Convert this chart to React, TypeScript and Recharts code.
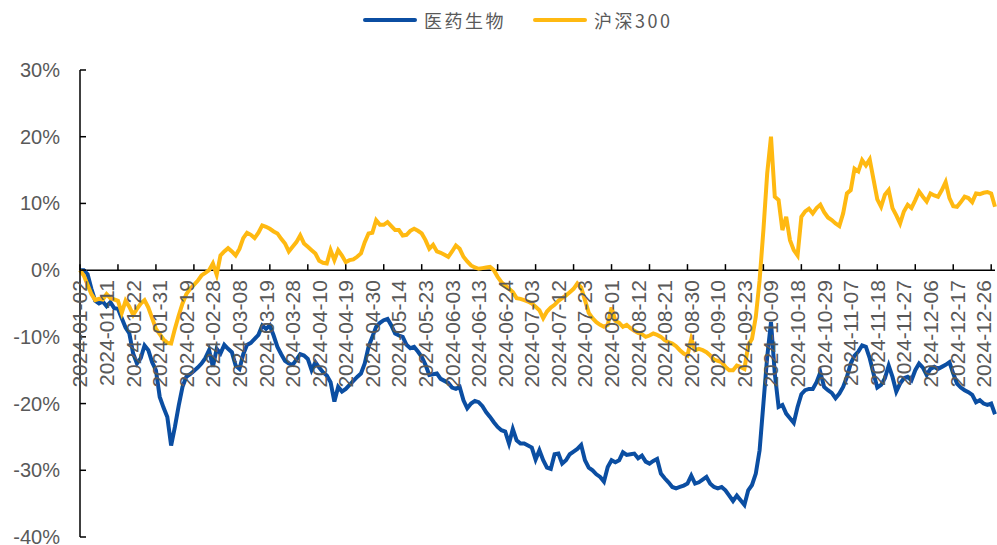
import React from 'react'
import { LineChart, Line, XAxis, YAxis, ReferenceLine, Legend } from 'recharts'

// A-share market holidays falling on weekdays in 2024
const HOLIDAYS = [
  '2024-01-01', '2024-02-09', '2024-02-12', '2024-02-13', '2024-02-14', '2024-02-15',
  '2024-02-16', '2024-04-04', '2024-04-05', '2024-05-01', '2024-05-02', '2024-05-03',
  '2024-06-10', '2024-09-16', '2024-09-17', '2024-10-01', '2024-10-02', '2024-10-03',
  '2024-10-04', '2024-10-07'
]

const Y_TICKS = [-40, -30, -20, -10, 0, 10, 20, 30]

// cumulative return, %
const MED = [
  0, 0.0, -0.6, -2.8, -4.6, -5.0, -4.7, -5.4, -4.8, -5.7,
  -5.8, -7.2, -8.6, -9.5, -12.5, -14.0, -13.2, -11.3, -12.0, -13.8,
  -15.0, -19.0, -20.6, -22.0, -26.3, -23.5, -20.3, -17.5, -16.0, -15.6,
  -15.1, -14.6, -14.0, -13.2, -12.0, -14.5, -11.8, -12.5, -11.2, -11.8,
  -12.3, -14.3, -14.8, -12.6, -11.2, -10.9, -10.3, -9.7, -8.3, -8.8,
  -8.3, -9.8, -11.5, -12.6, -13.6, -14.0, -14.2, -13.4, -12.6, -12.8,
  -13.3, -15.0, -13.8, -14.6, -15.3, -15.8, -16.8, -19.7, -17.5, -18.2,
  -17.8, -17.2, -16.6, -16.0, -15.5, -14.0, -11.5, -10.0, -8.5, -7.9,
  -7.5, -7.3, -8.3, -9.5, -9.8, -10.0, -11.2, -11.7, -11.5, -12.2,
  -13.0, -14.2, -15.7, -15.6, -15.5, -16.3, -16.6, -16.9, -17.6, -17.8,
  -17.5, -19.5, -20.7, -20.0, -19.6, -19.8, -20.4, -21.3, -22.0, -22.8,
  -23.5, -24.0, -24.2, -26.0, -23.8, -25.5, -26.0, -26.0, -26.3, -26.6,
  -28.4, -27.0, -28.5, -29.6, -29.8, -27.6, -27.5, -29.0, -28.5, -27.6,
  -27.2, -26.8, -26.2, -28.5, -29.6, -30.0, -30.6, -31.0, -31.7, -29.5,
  -28.5, -28.8, -28.5, -27.3, -27.7, -27.6, -27.5, -28.2, -27.8, -28.7,
  -29.0, -28.6, -28.3, -30.5, -31.2, -31.8, -32.5, -32.7, -32.5, -32.3,
  -32.0, -30.8, -32.0, -31.8, -31.4, -31.0, -32.0, -32.5, -32.7, -32.5,
  -33.0, -33.8, -34.6, -33.8, -34.5, -35.2, -33.0, -32.2, -30.5, -27.0,
  -20.0, -13.0, -7.8, -15.5, -20.5, -20.2, -21.5, -22.2, -22.9, -20.5,
  -18.6, -18.0, -17.8, -17.8, -16.8, -15.3, -17.5, -18.0, -18.4, -19.2,
  -18.5, -17.5, -16.0, -14.0, -12.8, -12.2, -11.3, -11.5, -13.2, -15.5,
  -17.6, -17.2, -16.2, -14.3, -16.0, -18.2, -17.0, -16.2, -16.0, -16.5,
  -15.0, -14.0, -14.6, -15.7, -14.8, -14.5, -14.8, -14.5, -14.2, -13.8,
  -15.5, -17.0, -17.6, -18.0, -18.3, -18.7, -19.8, -19.5, -20.0, -20.2,
  -20.0, -21.6
]

const HS300 = [
  0, -0.8, -2.2, -3.6, -4.5, -4.3, -4.4, -3.6, -4.2, -4.4,
  -4.6, -6.4, -4.6, -5.5, -6.7, -5.8, -5.0, -4.5, -5.6, -7.2,
  -8.8, -9.6, -10.4, -10.9, -11.0, -8.8, -6.8, -5.0, -3.6, -2.8,
  -2.2, -1.6, -0.8, -0.4, 0.0, 1.0, -0.7, 2.2, 2.8, 3.3,
  2.8, 2.2, 3.2, 4.8, 5.6, 5.3, 4.8, 5.6, 6.7, 6.5,
  6.2, 5.8, 5.5, 4.7, 4.0, 2.8, 3.5, 4.2, 5.2, 4.0,
  3.5, 3.0, 2.5, 1.4, 1.1, 1.0, 3.0, 1.5, 3.0, 2.2,
  1.2, 1.5, 1.6, 2.0, 2.5, 4.2, 5.5, 5.6, 7.5, 6.8,
  6.8, 7.2, 6.6, 6.0, 6.0, 5.2, 5.3, 5.9, 6.2, 5.9,
  5.5, 4.5, 3.2, 3.8, 2.8, 2.6, 2.3, 2.0, 2.8, 3.7,
  3.2, 2.0, 1.3, 0.7, 0.4, 0.2, 0.3, 0.4, 0.5, 0.0,
  -1.0, -1.8, -2.3, -2.8, -3.3, -4.2, -4.3, -4.5, -4.7, -5.0,
  -5.5, -6.0, -7.2, -6.2, -5.6, -5.2, -4.6, -4.2, -3.8, -3.3,
  -2.8, -2.0, -2.6, -4.5, -6.4, -7.2, -7.8, -8.2, -8.5, -8.2,
  -5.6, -7.6, -7.9, -8.5, -8.2, -8.7, -9.1, -9.4, -9.6, -10.0,
  -9.8, -9.5, -9.7, -10.0, -10.5, -10.8, -11.0, -11.4, -12.0, -12.5,
  -12.8, -10.3, -12.0, -11.8, -12.0, -12.3, -12.8, -13.4, -13.6, -13.8,
  -14.5, -15.0, -15.0, -14.3, -14.5, -14.8, -11.3, -10.3, -7.0, -1.5,
  6.0, 14.5, 20.0, 11.0, 10.5, 6.0, 8.0, 4.5, 3.0, 2.2,
  8.0, 8.8, 9.2, 8.5, 9.3, 9.8, 8.7, 7.9, 7.5, 7.0,
  6.6, 8.5, 11.5, 12.0, 15.2, 14.8, 16.5, 15.7, 16.6, 13.6,
  10.6, 9.5, 11.3, 12.0, 9.3, 8.2, 7.0, 8.8, 9.8, 9.3,
  10.5, 11.8, 11.0, 10.3, 11.5, 11.2, 11.0, 12.0, 13.2, 10.8,
  9.6, 9.5, 10.2, 11.0, 10.8, 10.2, 11.5, 11.4, 11.6, 11.7,
  11.5, 9.5
]

function tradingDays(): string[] {
  const out: string[] = []
  const d = new Date(Date.UTC(2024, 0, 1))
  while (d.getUTCFullYear() === 2024) {
    const wd = d.getUTCDay()
    const s = d.toISOString().slice(0, 10)
    if (wd !== 0 && wd !== 6 && !HOLIDAYS.includes(s)) out.push(s)
    d.setUTCDate(d.getUTCDate() + 1)
  }
  return out
}

const DATES = tradingDays()
const data = DATES.map((date, i) => ({ date, med: MED[i], hs: HS300[i] }))

const W = 997
const H = 545
const TOP = 70
const BOTTOM_PAD = 6
const Y_MIN = -40
const Y_MAX = 30
// y pixel of the 0% line, where the category axis sits
const PLOT_H = H - TOP - BOTTOM_PAD - 2
const ZERO_Y = TOP + (PLOT_H * Y_MAX) / (Y_MAX - Y_MIN)

const FONT = '"Liberation Sans", Arial, sans-serif'
const GREY = '#595959'

const YTick = (props: any) => {
  const { x, y, payload } = props
  return (
    <g>
      <line x1={x} x2={x + 6} y1={y} y2={y} stroke="#000" strokeWidth={1.5} />
      <text x={x - 20} y={y} textAnchor="end" dominantBaseline="central"
        fill={GREY} fontSize={20} fontFamily={FONT}>{payload.value}%</text>
    </g>
  )
}

const DateTick = (props: any) => {
  const { x, payload } = props
  const ty = ZERO_Y + 10
  return (
    <text x={x} y={ty} transform={`rotate(-90, ${x}, ${ty})`} textAnchor="end"
      dominantBaseline="central" fill={GREY} fontSize={21} fontFamily={FONT}>
      {payload.value}
    </text>
  )
}

const MarkTick = (props: any) => {
  const { x } = props
  return <line x1={x} x2={x} y1={ZERO_Y} y2={ZERO_Y - 6} stroke="#000" strokeWidth={1.5} />
}

const LegendBox = (props: any) => {
  const items = props.payload || []
  return (
    <div style={{ height: 40, display: 'flex', alignItems: 'center', paddingLeft: 363 }}>
      {items.map((it: any) => (
        <div key={it.value} style={{ display: 'flex', alignItems: 'center', marginRight: 27 }}>
          <span style={{ width: 54, height: 4, borderRadius: 2, background: it.color, display: 'inline-block', marginRight: 7 }} />
          <span style={{ color: GREY, fontSize: 18, letterSpacing: 2.5, fontFamily: '"Noto Sans CJK SC", sans-serif' }}>{it.value}</span>
        </div>
      ))}
    </div>
  )
}

export default function App() {
  return (
    <div style={{ width: W, height: H }}>
      <style>{'body{margin:0}'}</style>
      <LineChart width={W} height={H} data={data}
        margin={{ top: TOP - 40, right: 2, bottom: BOTTOM_PAD, left: 0 }}>
        <Legend verticalAlign="top" content={<LegendBox />}
          wrapperStyle={{ top: 0, left: 0, width: W, height: 40 }} />
        <YAxis domain={[Y_MIN, Y_MAX]} ticks={Y_TICKS} interval={0} width={80} tickSize={0}
          tickMargin={0} axisLine={{ stroke: '#000', strokeWidth: 1.5 }} tickLine={false}
          tick={<YTick />} allowDataOverflow />
        <XAxis dataKey="date" interval={6} height={1} axisLine={false} tickLine={false}
          tick={<DateTick />} />
        <XAxis xAxisId="t" dataKey="date" interval={9} height={1} axisLine={false}
          tickLine={false} tick={<MarkTick />} />
        <ReferenceLine y={0} stroke="#000" strokeWidth={1.5} />
        <Line dataKey="med" name="医药生物" stroke="#0B4EA2" strokeWidth={4} dot={false}
          isAnimationActive={false} />
        <Line dataKey="hs" name="沪深300" stroke="#FFB911" strokeWidth={4} dot={false}
          isAnimationActive={false} />
      </LineChart>
    </div>
  )
}
